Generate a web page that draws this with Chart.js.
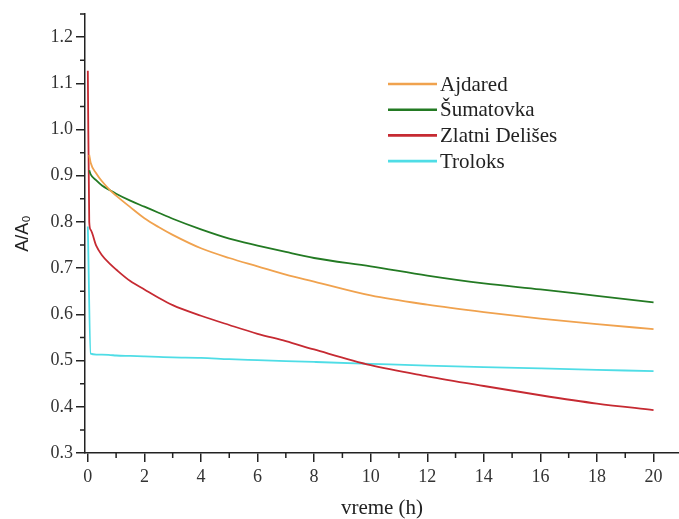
<!DOCTYPE html>
<html>
<head>
<meta charset="utf-8">
<script src="https://cdn.jsdelivr.net/npm/chart.js@4/dist/chart.umd.min.js"></script>
<style>
html, body { margin: 0; padding: 0; background: #fff; }
#wrap { width: 679px; height: 519px; }
</style>
</head>
<body>
<div id="wrap"><canvas id="graf"></canvas></div>
<script>
// vreme (h)
const vreme = [0, 0.05, 0.1, 0.3, 0.5, 0.8, 1, 1.5, 2, 2.5, 3, 4, 5, 6, 7, 8, 10, 12, 14, 16, 18, 20]
// A/A0 po uzorku
const ajdared   = [null, 0.945, 0.928, 0.905, 0.888, 0.868, 0.857, 0.832, 0.808, 0.789, 0.772, 0.743, 0.722, 0.704, 0.686, 0.671, 0.641, 0.621, 0.605, 0.591, 0.579, 0.568]
const sumatovka = [null, 0.912, 0.903, 0.890, 0.879, 0.868, 0.861, 0.846, 0.833, 0.820, 0.807, 0.784, 0.764, 0.749, 0.735, 0.722, 0.704, 0.684, 0.667, 0.654, 0.640, 0.626]
const zlatni    = [1.127, 0.800, 0.783, 0.748, 0.728, 0.708, 0.697, 0.672, 0.654, 0.636, 0.620, 0.597, 0.577, 0.558, 0.542, 0.524, 0.490, 0.466, 0.445, 0.425, 0.407, 0.393]
const troloks   = [0.790, null, 0.515, 0.513, 0.513, 0.512, 0.511, 0.510, 0.509, 0.508, 0.507, 0.506, 0.503, 0.501, 0.499, 0.497, 0.493, 0.489, 0.486, 0.483, 0.480, 0.477]

const labels = ['Ajdared', 'Šumatovka', 'Zlatni Delišes', 'Troloks']
const colors = ['#F0A24E', '#237A23', '#C62A32', '#4FDDE6']

// podeoci
const xTicks = [0, 2, 4, 6, 8, 10, 12, 14, 16, 18, 20]
const xMinor = [1, 3, 5, 7, 9, 11, 13, 15, 17, 19]
const yTicks = [0.3, 0.4, 0.5, 0.6, 0.7, 0.8, 0.9, 1.0, 1.1, 1.2]
const yMinor = [0.35, 0.45, 0.55, 0.65, 0.75, 0.85, 0.95, 1.05, 1.15, 1.25]

const toPoints = vals => vreme.map((t, i) => ({ x: t, y: vals[i] }))
const series = [ajdared, sumatovka, zlatni, troloks]

const datasets = series.map((vals, i) => ({
    label: labels[i],
    data: toPoints(vals),
    borderColor: colors[i],
    borderWidth: 1.8,
    pointRadius: 0,
    tension: 0.4,
    cubicInterpolationMode: 'monotone',
    spanGaps: true,
    fill: false
}))

// sitni podeoci na osama
const minorTicks = {
    id: 'minorTicks',
    afterDraw(chart) {
        const ctx = chart.ctx
        const area = chart.chartArea
        const sx = chart.scales.x
        const sy = chart.scales.y
        ctx.save()
        ctx.strokeStyle = '#222'
        ctx.lineWidth = 1.5
        ctx.beginPath()
        xMinor.forEach(v => {
            const px = sx.getPixelForValue(v)
            ctx.moveTo(px, area.bottom)
            ctx.lineTo(px, area.bottom + 5)
        })
        yMinor.forEach(v => {
            const py = sy.getPixelForValue(v)
            ctx.moveTo(area.left, py)
            ctx.lineTo(area.left - 5, py)
        })
        ctx.stroke()
        ctx.restore()
    }
}

// legenda unutar grafika
const innerLegend = {
    id: 'innerLegend',
    afterDraw(chart) {
        const ctx = chart.ctx
        const area = chart.chartArea
        const x0 = area.left + 303
        const y0 = area.top + 70
        ctx.save()
        ctx.font = '21px "Liberation Serif", "Times New Roman", serif'
        ctx.textBaseline = 'middle'
        ctx.fillStyle = '#222'
        chart.data.datasets.forEach((ds, i) => {
            const y = y0 + i * 25.7
            ctx.strokeStyle = ds.borderColor
            ctx.lineWidth = 2.6
            ctx.beginPath()
            ctx.moveTo(x0, y)
            ctx.lineTo(x0 + 49, y)
            ctx.stroke()
            ctx.fillText(ds.label, x0 + 52, y + 1)
        })
        ctx.restore()
    }
}

const options = {
    responsive: true,
    maintainAspectRatio: false,
    animation: false,
    layout: { padding: { top: 14, right: 0, bottom: 0, left: 0 } },
    plugins: {
        legend: { display: false },
        tooltip: { enabled: false }
    },
    scales: {
        x: {
            type: 'linear',
            min: -0.1,
            max: 20.9,
            afterBuildTicks: s => { s.ticks = xTicks.map(v => ({ value: v })) },
            afterFit: s => { s.height = 66 },
            border: { color: '#222', width: 1.5 },
            grid: { drawOnChartArea: false, tickLength: 9, tickColor: '#222', lineWidth: 1.5 },
            ticks: {
                color: '#333',
                padding: 4,
                maxRotation: 0,
                font: { family: '"Liberation Serif", "Times New Roman", serif', size: 18 },
                callback: v => String(v)
            },
            title: {
                display: true,
                text: 'vreme (h)',
                color: '#222',
                padding: { top: 0, bottom: 0 },
                font: { family: '"Liberation Serif", "Times New Roman", serif', size: 21, lineHeight: 1 }
            }
        },
        y: {
            min: 0.3,
            max: 1.25,
            afterBuildTicks: s => { s.ticks = yTicks.map(v => ({ value: v })) },
            afterFit: s => { s.width = 85 },
            border: { color: '#222', width: 1.5 },
            grid: { drawOnChartArea: false, tickLength: 9, tickColor: '#222', lineWidth: 1.5 },
            ticks: {
                color: '#333',
                padding: 3,
                font: { family: '"Liberation Serif", "Times New Roman", serif', size: 18 },
                callback: v => v.toFixed(1)
            },
            title: {
                display: true,
                text: 'A/A₀',
                color: '#222',
                padding: { top: 14, bottom: 0 },
                font: { family: '"Liberation Sans", "DejaVu Sans", sans-serif', size: 18, lineHeight: 1 }
            }
        }
    }
}

new Chart('graf', {
    type: 'line',
    data: { datasets },
    options,
    plugins: [minorTicks, innerLegend]
})
</script>
</body>
</html>
